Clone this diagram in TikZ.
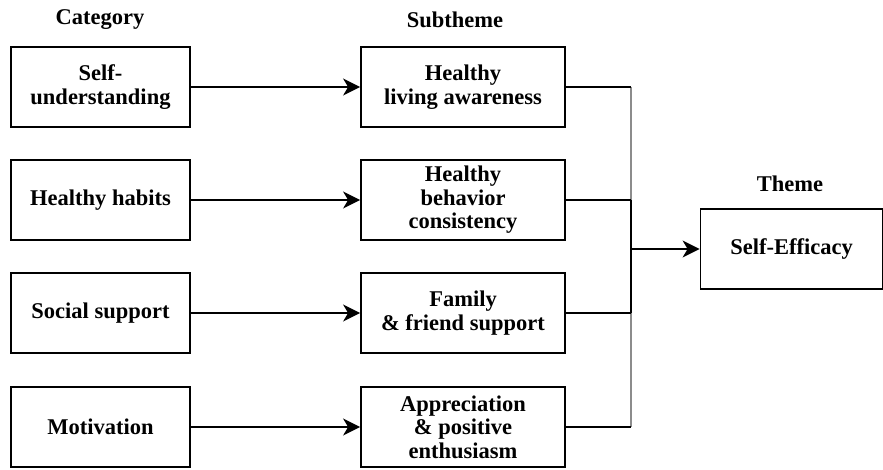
\documentclass[tikz,border=0pt]{standalone}
\usepackage{fontspec}
\setmainfont{Liberation Serif}
\usetikzlibrary{arrows.meta}
\begin{document}
\begin{tikzpicture}[x=1pt,y=-1pt,
  lbl/.style={font=\fontsize{22.5}{23.5}\selectfont\bfseries, inner sep=0pt},
  box/.style={draw=black, line width=1.8pt, align=center, inner sep=0pt,
    font=\fontsize{22.5}{23.5}\selectfont\bfseries},
  catbox/.style={box, minimum width=179pt, minimum height=80pt},
  subbox/.style={box, minimum width=204pt, minimum height=80pt},
  thbox/.style={box, minimum width=182pt, minimum height=80pt},
  conn/.style={draw=black, line width=1.6pt},
  arr/.style={conn, -{Stealth[length=17pt,width=17pt,inset=5pt]}},
  vgray/.style={draw=black!45, line width=1.8pt}
]
\useasboundingbox (0,0) rectangle (883,469);
\node[lbl] (lcat) at (100,20) {Category};
\node[lbl] (lsub) at (455,20) {Subtheme};
\node[lbl] (lth) at (790,184) {Theme};

\node[catbox] (c1) at (100.5,87) {Self-\\understanding};
\node[catbox] (c2) at (100.5,200) {Healthy habits};
\node[catbox] (c3) at (100.5,313) {Social support};
\node[catbox] (c4) at (100.5,427) {Motivation};

\node[subbox] (s1) at (463,87) {Healthy\\living awareness};
\node[subbox] (s2) at (463,200) {Healthy\\behavior\\consistency};
\node[subbox] (s3) at (463,313) {Family\\\& friend support};
\node[subbox] (s4) at (463,427) {Appreciation\\\& positive\\enthusiasm};

\node[thbox] (t) at (791.5,249) {Self-Efficacy};

\coordinate (j) at (631,249);
\coordinate (j1) at (631,87);
\coordinate (j2) at (631,200);
\coordinate (j3) at (631,313);
\coordinate (j4) at (631,427);

\foreach \i in {1,2,3,4} {
  \draw[arr] (c\i.east) -- (s\i.west);
}
\draw[vgray] (j1) -- (j2);
\draw[vgray] (j3) -- (j4);
\draw[conn] (j2) -- (j3);
\foreach \i in {1,2,3,4} {
  \draw[conn] (s\i.east) -- (j\i);
}
\draw[arr] (j) -- (t.west);
\end{tikzpicture}
\end{document}
